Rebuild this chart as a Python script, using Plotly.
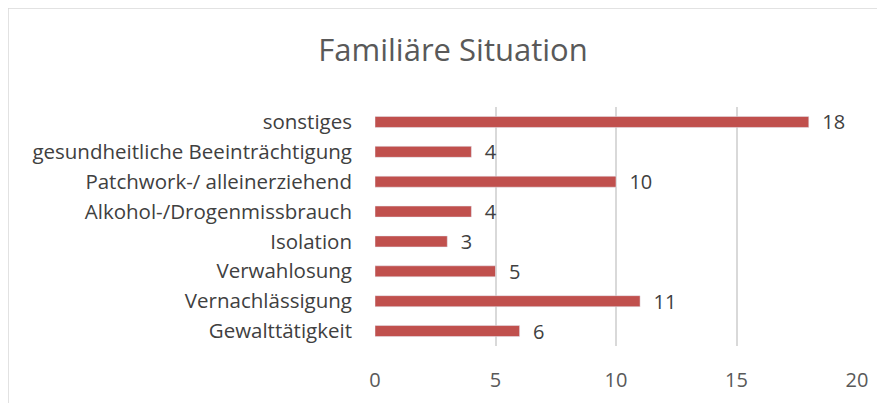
import plotly.graph_objects as go

categories = ["Gewalttätigkeit", "Vernachlässigung", "Verwahlosung", "Isolation",
              "Alkohol-/Drogenmissbrauch", "Patchwork-/ alleinerziehend",
              "gesundheitliche Beeinträchtigung", "sonstiges"]
values = [6, 11, 5, 3, 4, 10, 4, 18]
tick_vals = [0, 5, 10, 15, 20]

W, H = 885, 403
L, R, T, B = 367, 36, 99, 65
pw, ph = W - L - R, H - T - B
FONT = "Open Sans"

fig = go.Figure(go.Bar(
    y=categories, x=values, orientation="h",
    marker=dict(color="#C0504D"), width=0.37,
    text=["  " + str(v) for v in values], textposition="outside",
    constraintext="none",
    textfont=dict(size=20, color="#404040", family=FONT),
    cliponaxis=False,
))

fig.update_layout(
    width=W, height=H,
    margin=dict(l=L, r=R, t=T, b=B),
    paper_bgcolor="white", plot_bgcolor="white",
    title=dict(text="Familiäre Situation", x=445 / W, xref="container", xanchor="center",
               y=1 - 42 / H, yanchor="middle",
               font=dict(family=FONT, size=31, color="#595959")),
    xaxis=dict(range=[0, 20], tickvals=tick_vals, showgrid=True, gridcolor="#D9D9D9",
               gridwidth=1.5, zeroline=False, showline=False, ticks="",
               tickfont=dict(family=FONT, size=20, color="#595959"),
               ticklabelstandoff=20),
    yaxis=dict(showgrid=False, ticks="", showline=False,
               tickfont=dict(family=FONT, size=20.5, color="#404040"),
               ticklabelstandoff=22),
    showlegend=False,
    shapes=[dict(type="rect", xref="paper", yref="paper",
                 x0=-L / pw, x1=(W - L) / pw,
                 y0=-B / ph, y1=(H - B) / ph,
                 line=dict(color="#D9D9D9", width=1.5), fillcolor="rgba(0,0,0,0)", layer="below")],
)

fig.write_html("out.html")
